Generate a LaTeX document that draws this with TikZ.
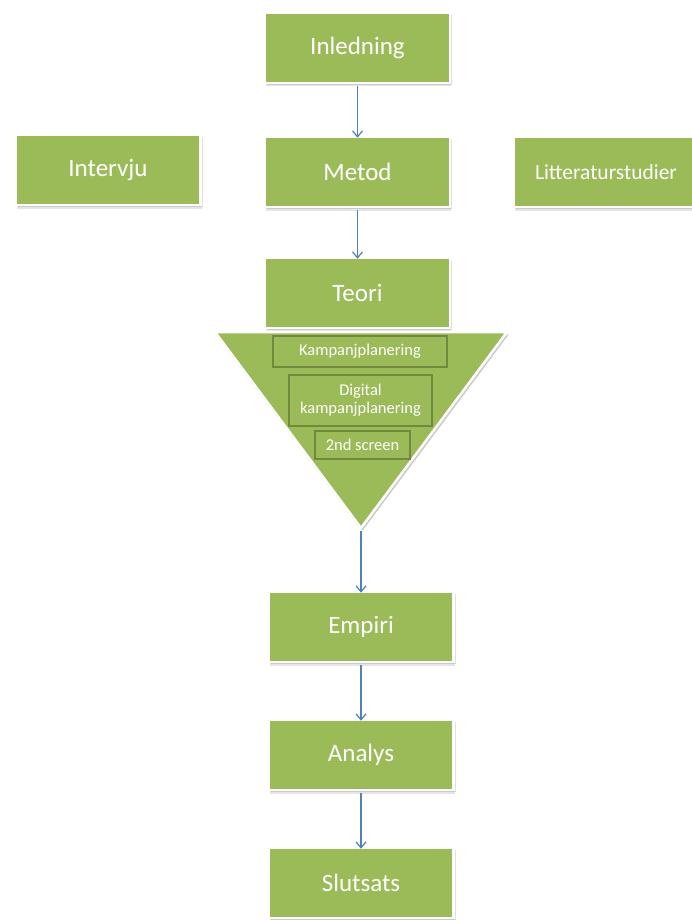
\documentclass[tikz,border=0pt]{standalone}
\usepackage{fontspec}
\setmainfont{Carlito}
\usetikzlibrary{arrows.meta,shadows,positioning}
\definecolor{leaf}{HTML}{9BBB59}
\definecolor{leafdark}{HTML}{71893F}
\definecolor{flow}{HTML}{4F81BD}
\begin{document}
\begin{tikzpicture}[x=1pt,y=-1pt,
  softshadow/.style={
    drop shadow={opacity=0.10,shadow xshift=1pt,shadow yshift=-3.5pt,fill=black},
    drop shadow={opacity=0.12,shadow xshift=2pt,shadow yshift=-2pt,fill=black}},
  stage/.style={rectangle,fill=leaf,draw=white,line width=2.5pt,minimum width=185pt,
    minimum height=70pt,inner sep=0pt,text=white,font=\fontsize{25}{29}\selectfont,softshadow},
  topic/.style={rectangle,fill=leaf,draw=leafdark,line width=2pt,inner sep=0pt,
    text=white,font=\fontsize{16.5}{19}\selectfont,align=center},
  flowarrow/.style={draw=flow,line width=1.3pt,-{Straight Barb[length=6pt,width=10pt,line width=1.2pt]}}]
\useasboundingbox (0,0) rectangle (691,920);
\fill[white] (0,0) rectangle (691,920);

% side boxes
\node[stage] (intervju) at (108,170) {Intervju};
\node[stage,font=\fontsize{21.5}{25}\selectfont] (litt) at (606,172) {Litteraturstudier};

% main chain
\node[stage] (inledning) at (357.5,48) {Inledning};
\node[stage] (metod) at (357.5,172) {Metod};
\node[stage] (teori) at (357.5,293) {Teori};

% funnel
\coordinate (tl) at (215,332);
\coordinate (tr) at (507,332);
\coordinate (apex) at (361,528);
\fill[leaf,draw=white,line width=2.5pt,line join=miter,softshadow] (tl) -- (tr) -- (apex) -- cycle;
\node[topic,minimum width=174pt,minimum height=31pt] (kampanj) at (360,351.5) {Kampanjplanering};
\node[topic,minimum width=143pt,minimum height=51pt,font=\fontsize{16.5}{18}\selectfont] (digital) at (360.5,400.5) {Digital\\kampanjplanering};
\node[topic,minimum width=95pt,minimum height=28pt] (second) at (362.5,445) {2nd screen};

\node[stage] (empiri) at (361,627) {Empiri};
\node[stage] (analys) at (361,755) {Analys};
\node[stage] (slutsats) at (361,883) {Slutsats};

% connectors
\draw[flowarrow] (inledning.south) ++(0,2) -- ([yshift=-2pt]metod.north);
\draw[flowarrow] (metod.south) ++(0,2) -- ([yshift=-2pt]teori.north);
\draw[flowarrow] (apex) ++(0,3) -- ([yshift=-2pt]empiri.north);
\draw[flowarrow] (empiri.south) ++(0,2) -- ([yshift=-2pt]analys.north);
\draw[flowarrow] (analys.south) ++(0,2) -- ([yshift=-2pt]slutsats.north);
\end{tikzpicture}
\end{document}
